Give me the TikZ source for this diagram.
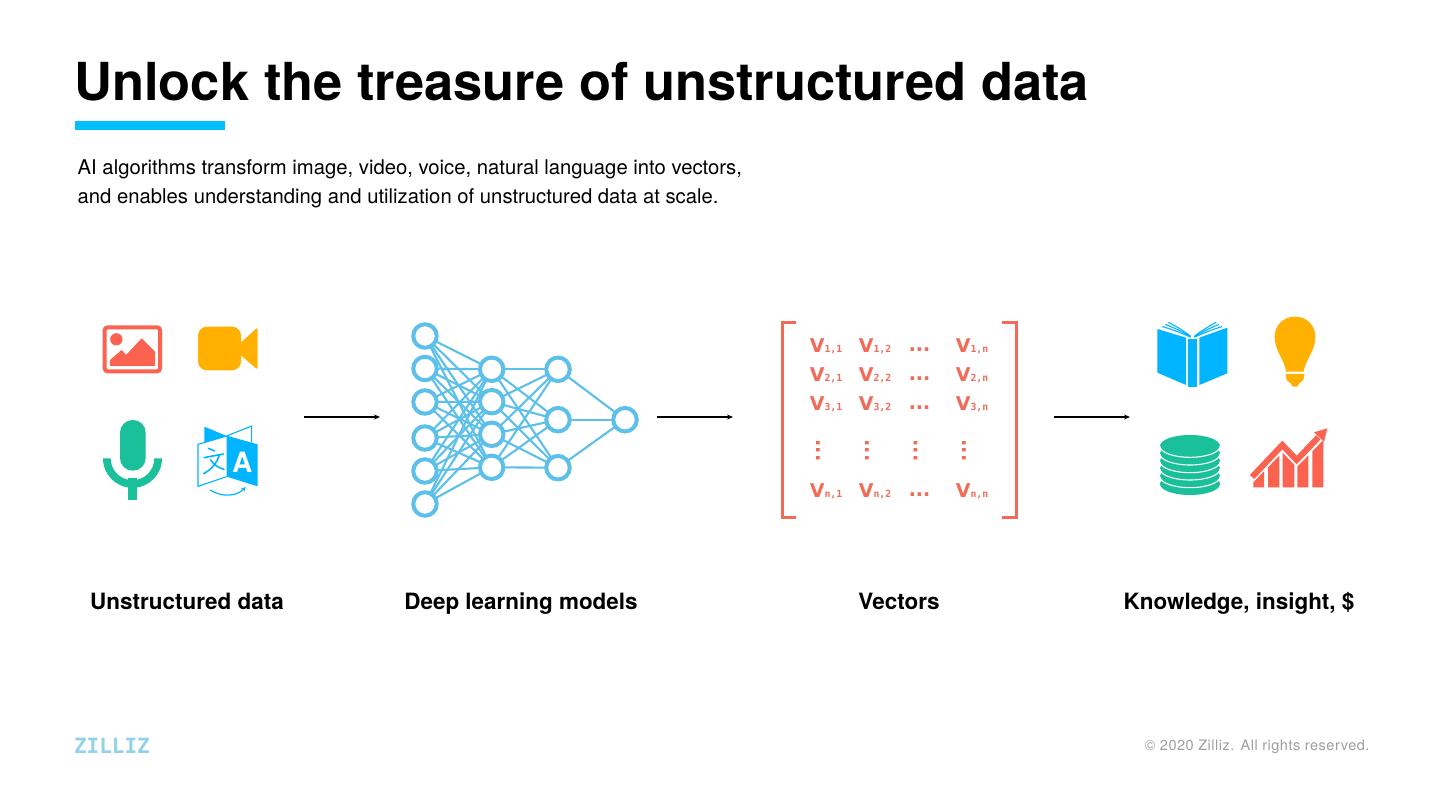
\documentclass[tikz,border=0pt]{standalone}
\usepackage{fontspec}
\setmainfont{TeX Gyre Heros}
\newfontfamily\vecfont{DejaVu Sans}[BoldFont={DejaVu Sans Bold}]
\newfontfamily\vecmono{DejaVu Sans Mono}[BoldFont={DejaVu Sans Mono Bold}]
\usetikzlibrary{arrows.meta}
\definecolor{cyanbar}{HTML}{00BFFF}
\definecolor{coral}{HTML}{FB6350}
\definecolor{amber}{HTML}{FFB000}
\definecolor{teal}{HTML}{19C09A}
\definecolor{sky}{HTML}{00B4FF}
\definecolor{netblue}{HTML}{5CC0EA}
\definecolor{matcol}{HTML}{F06C59}
\definecolor{logoc}{HTML}{93D2E6}
\newcommand{\fsz}[1]{\fontsize{#1}{#1}\selectfont}
\newcommand{\vent}[2]{{\fsz{19}\bfseries\vecfont V}{\fsz{9.8}\bfseries\vecmono\raisebox{-0.5pt}{#1,#2}}}
\tikzset{
  every node/.style={inner sep=0pt,outer sep=0pt},
  neuron/.style={circle,draw=netblue,fill=white,line width=4pt,minimum size=23.5pt},
  edgeline/.style={netblue,line width=2.1pt},
  flow/.style={black,line width=1.6pt,-{Stealth[length=6pt,width=5pt]}},
  caption/.style={anchor=base,font=\fsz{22.45}\bfseries},
  mcell/.style={anchor=base,text=matcol},
  mdots/.style={anchor=center,text=matcol,font=\fsz{21}\bfseries\vecmono\addfontfeature{LetterSpace=-26}},
  bracket/.style={matcol,line width=3pt,line cap=butt,miter limit=10},
}
\begin{document}
\begin{tikzpicture}[x=1pt,y=-1pt]
\useasboundingbox (0,0) rectangle (1440,810);
\fill[white] (0,0) rectangle (1440,810);
% heading
\node[anchor=base west] (title) at (74.3,100.5) {\fsz{52.4}\bfseries Unlock the treasure of unstructured data};
\fill[cyanbar] (75,121) rectangle (225,130);
\node[anchor=base west] (sub1) at (77.7,175) {\fsz{20.27}AI algorithms transform image, video, voice, natural language into vectors,};
\node[anchor=base west] (sub2) at (77.7,204) {\fsz{20.27}and enables understanding and utilization of unstructured data at scale.};
% image icon
\begin{scope}[shift={(80,300)},scale=1/3]
\draw[coral,line width=4pt,rounded corners=3pt] (74,82) rectangle (240,214);
\fill[coral] (109,118) circle (18.5);
\fill[coral] (90,180)--(125,150)--(138,165)--(185,115)--(225,155)--(225,198)--(90,198)--cycle;
% video
\fill[amber,rounded corners=9pt] (354,80) rectangle (483,211);
\fill[amber,rounded corners=1.5pt] (478,132)--(533,82)--(533,209)--(478,162)--cycle;
% mic
\fill[teal,rounded corners=12.6pt] (120,360) rectangle (197,512);
\fill[teal] (69,475)--(92,475) arc[start angle=180,end angle=0,radius=65.5] --(246,475) arc[start angle=0,end angle=180,radius=88.5]--cycle;
\fill[teal] (145,535) rectangle (171,600);
% translate
\fill[sky] (373,380)--(440,408)--(373,428)--cycle;
\draw[sky,line width=1.1pt] (440,408)--(515,378)--(515,428);
\draw[sky,line width=1.1pt,line join=miter] (440,408)--(354,433)--(354,559)--(440,530);
\fill[sky] (440,407)--(533,433)--(533,559)--(440,530)--cycle;
\draw[sky,line width=1.6pt,line cap=round] (385,445)--(404,453) (372,473)--(430,462);
\draw[sky,line width=1.6pt,line cap=round] (418,465) .. controls (410,490) and (395,508) .. (371,521);
\draw[sky,line width=1.6pt,line cap=round] (392,480) .. controls (402,495) and (415,503) .. (432,508);
\node[text=white,font=\fsz{28}\bfseries] (glyphA) at (487,486) {A};
\draw[sky,line width=1.2pt,-{Stealth[length=4.5pt,width=4.5pt]}] (390,570) .. controls (425,592) and (470,590) .. (497,561);
\end{scope}
% network
\foreach \n/\x/\y in {a1/425/336,a2/425/368.5,a3/425/402,a4/425/438,a5/425/471,a6/425/504,
  b1/491.7/369.3,b2/491.7/401.7,b3/491.7/434.3,b4/491.7/467.3,
  c1/558/369.3,c2/558/419.7,c3/558/467.7,d1/625/419.7}
  \coordinate (p\n) at (\x,\y);
\foreach \s in {a1,a2,a3,a4,a5,a6}\foreach \t in {b1,b2,b3,b4} \draw[edgeline] (p\s)--(p\t);
\foreach \s in {b1,b2,b3,b4}\foreach \t in {c1,c2,c3} \draw[edgeline] (p\s)--(p\t);
\foreach \s in {c1,c2,c3} \draw[edgeline] (p\s)--(pd1);
\foreach \n in {a1,a2,a3,a4,a5,a6,b1,b2,b3,b4,c1,c2,c3,d1} \node[neuron] (\n) at (p\n) {};
% matrix
\begin{scope}[shift={(770,310)},scale=1/3]
\draw[bracket] (78,37)--(38,37)--(38,623)--(78,623);
\draw[bracket] (695,37)--(738,37)--(738,623)--(695,623);
\end{scope}
\foreach \r/\y in {1/352,2/381,3/410,n/497}{
  \node[mcell] (m\r a) at (826,\y) {\vent{\r}{1}};
  \node[mcell] (m\r b) at (875,\y) {\vent{\r}{2}};
  \node[mdots] (m\r c) at (919.5,\y-2.5) {...};
  \node[mcell] (m\r d) at (972,\y) {\vent{\r}{n}};
}
\foreach \x/\k in {818/a,867/b,915.5/c,964/d}
  \node[mdots,rotate=90] (vd\k) at (\x,450.5) {...};
% book and others
\begin{scope}[shift={(1140,305)},scale=1/3]
\fill[sky] (52,72)--(138,98)--(138,240)--(52,203)--cycle;
\fill[sky] (178,98)--(262,68)--(262,205)--(178,240)--cycle;
\fill[sky] (143,103)--(172,103)--(172,245)--(143,245)--cycle;
\foreach \d in {0,9,18}{
 \draw[sky,line width=1.1pt] (152,94+\d*0.15) .. controls (135,80+\d*0.5) and (110,65+\d*0.7) .. (85-\d,52+\d*0.7);
 \draw[sky,line width=1.1pt] (163,94+\d*0.15) .. controls (180,80+\d*0.5) and (205,65+\d*0.7) .. (228+\d,52+\d*0.7);
}
% bulb
\fill[amber] (438,200) .. controls (435,165) and (404,140) .. (404,96) .. controls (404,60) and (430,35) .. (465,35) .. controls (500,35) and (526,60) .. (526,96) .. controls (526,140) and (495,165) .. (491,200) -- cycle;
\fill[amber] (437,207)--(493,207)--(490,225)--(478,235)--(472,245)--(458,245)--(452,235)--(440,225)--cycle;
% disks
\foreach \y in {537,514,491,469,446,423}
  \fill[teal] (150,\y) ellipse [x radius=90,y radius=33];
\foreach \y in {514,491,469,446,423}{
  \draw[white,line width=1.1pt] (60,\y+1) arc[start angle=180,end angle=0,x radius=90,y radius=33];
}
% chart
\fill[coral] (340,547)--(340,532)--(372,499)--(372,547)--cycle;
\fill[coral] (384,547)--(384,487)--(418,452)--(418,547)--cycle;
\fill[coral] (428,547)--(428,443)--(463,480)--(463,547)--cycle;
\fill[coral] (472,547)--(472,485)--(505,451)--(505,547)--cycle;
\fill[coral] (517,547)--(517,439)--(550,405)--(550,547)--cycle;
\draw[coral,line width=6pt,line join=miter] (336,516)--(427,420)--(470,465)--(535,397);
\fill[coral] (562,370)--(522,382)--(552,410)--cycle;
\end{scope}
% captions
\node[caption] (cap1) at (187,609) {Unstructured data};
\node[caption] (cap2) at (521,609) {Deep learning models};
\node[caption] (cap3) at (899,609) {Vectors};
\node[caption] (cap4) at (1239,609) {Knowledge, insight, \$};
% arrows
\coordinate (f1s) at (304,417); \coordinate (f1e) at (380,417);
\coordinate (f2s) at (657,417); \coordinate (f2e) at (733,417);
\coordinate (f3s) at (1054,417); \coordinate (f3e) at (1130,417);
\draw[flow] (f1s)--(f1e);
\draw[flow] (f2s)--(f2e);
\draw[flow] (f3s)--(f3e);
% footer
\node[anchor=base west,text=logoc] (logo) at (74,753) {\fsz{21}\bfseries\vecmono ZILLIZ};
\node[anchor=base east,text=black!38] (copy) at (1369.5,750) {\fsz{14.5}\addfontfeature{LetterSpace=3.6}© 2020 Zilliz. All rights reserved.};
\end{tikzpicture}
\end{document}
